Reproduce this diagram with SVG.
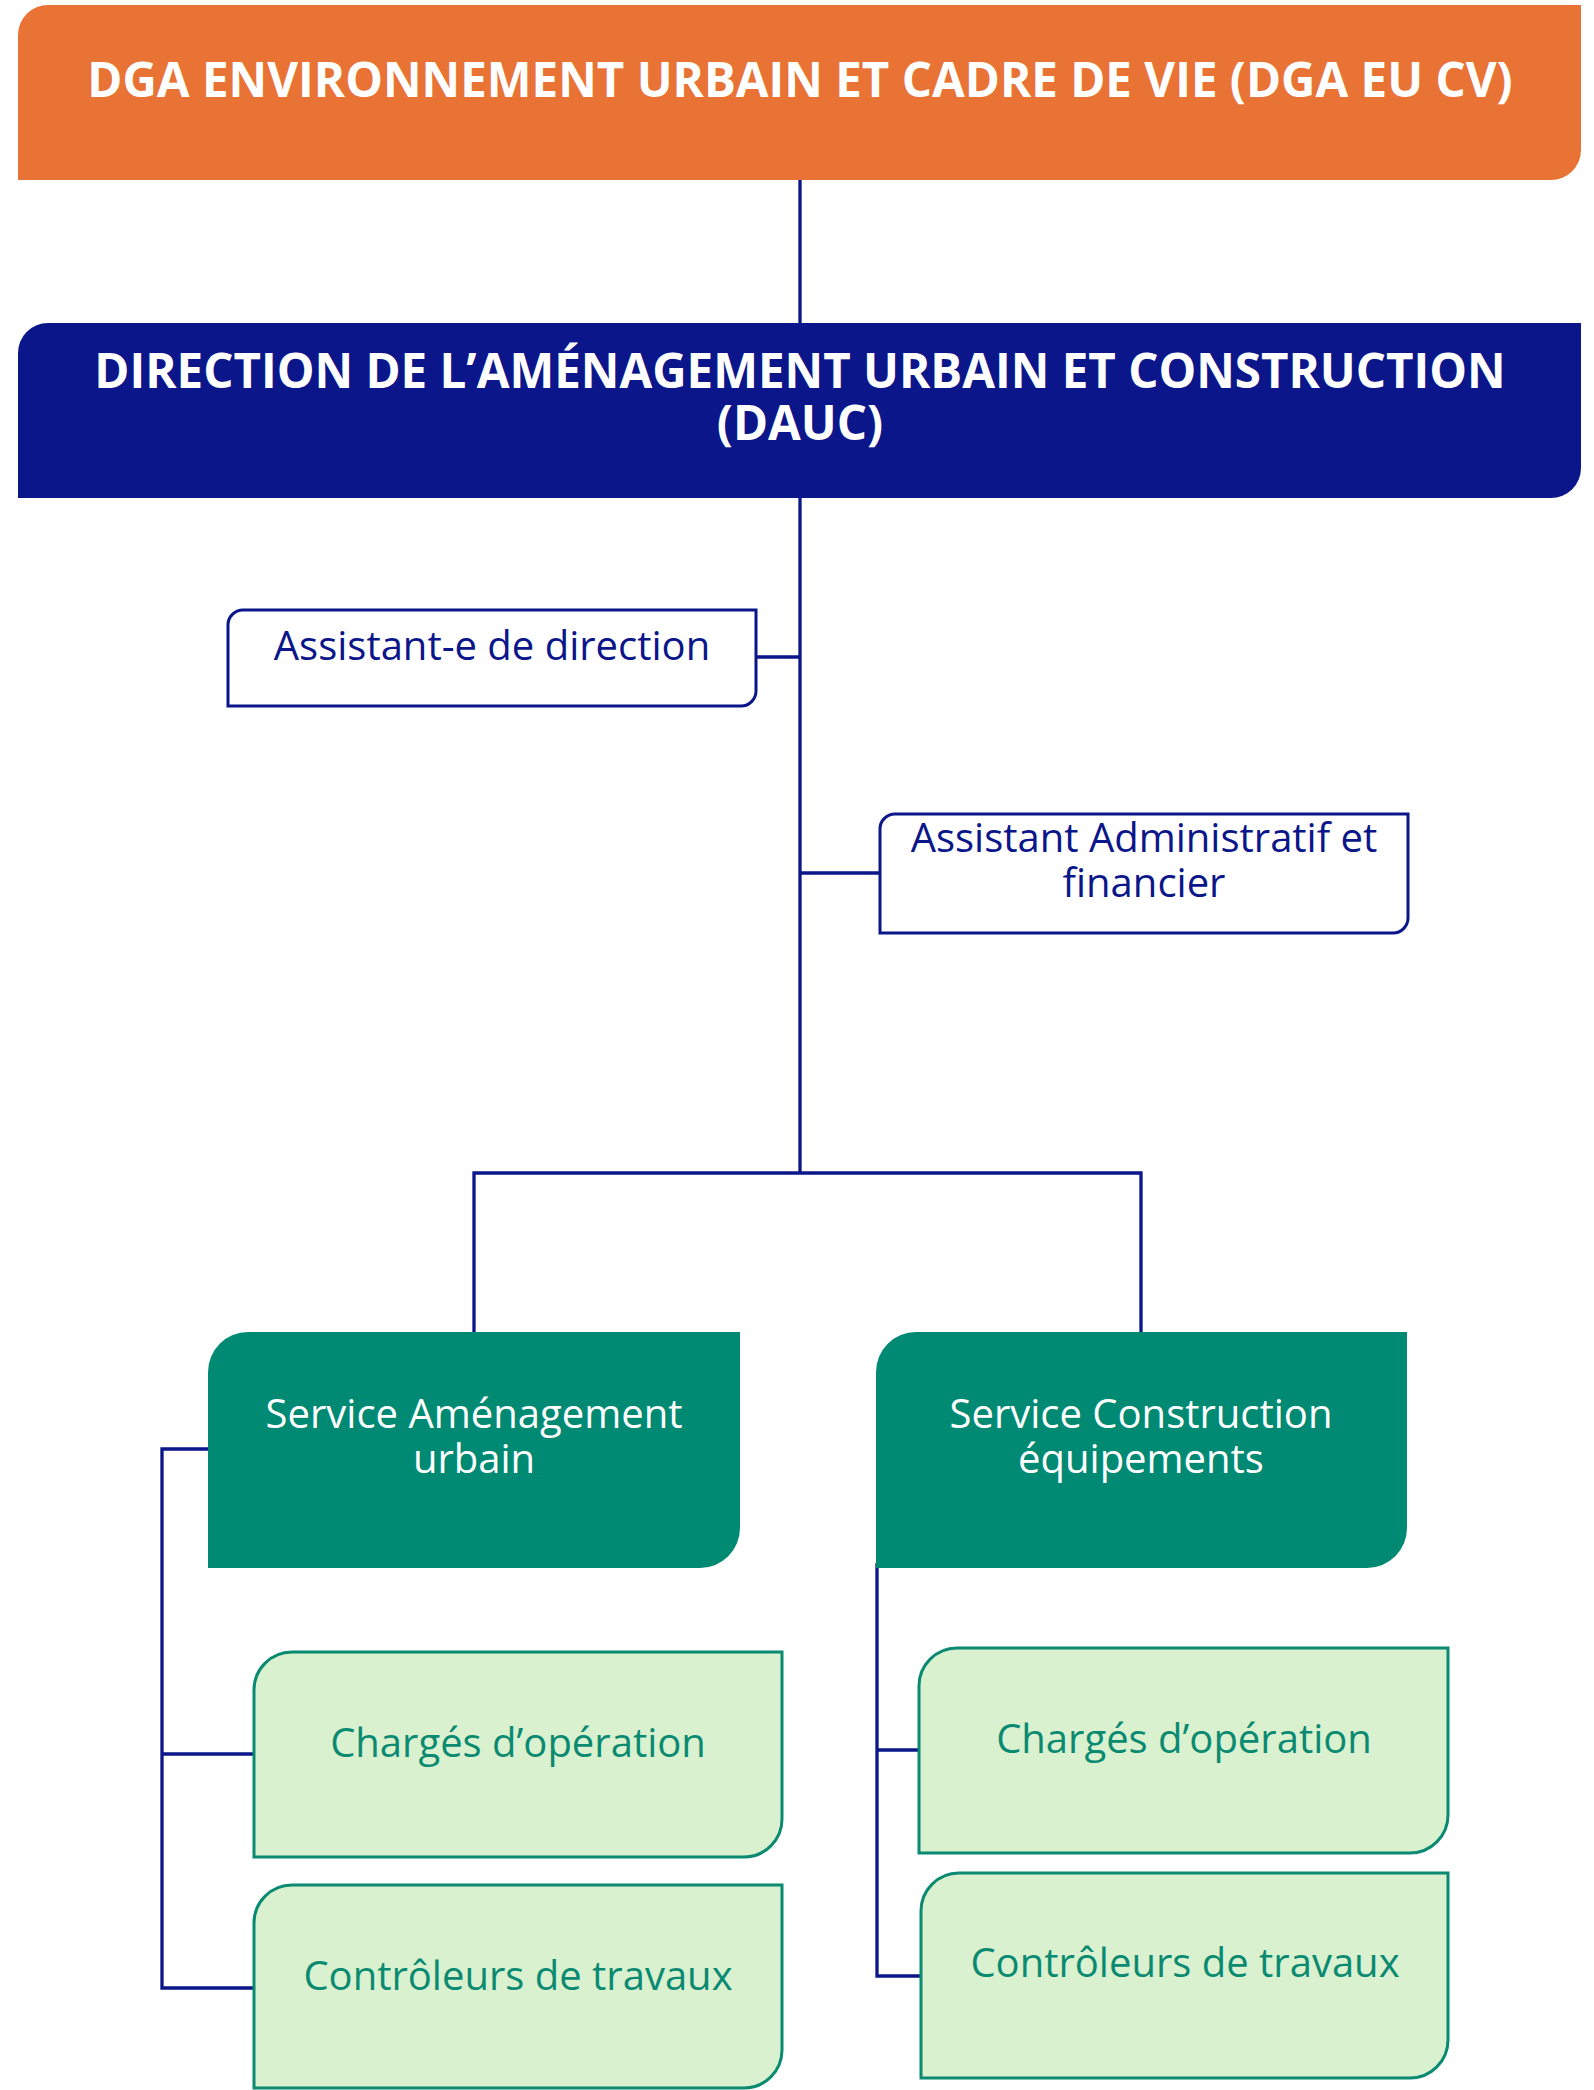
<svg xmlns="http://www.w3.org/2000/svg" width="1594" height="2090" viewBox="0 0 1594 2090">
<style>
.bg{fill:#ffffff}
.conn{fill:none;stroke:#0A1689;stroke-width:3.3}
.title{font-family:"Open Sans","Liberation Sans",sans-serif;font-weight:bold;font-size:47.5px;fill:#ffffff;text-anchor:middle}
.t{font-family:"Open Sans","Liberation Sans",sans-serif;font-size:40px;text-anchor:middle}
.w{fill:#ffffff}
.n{fill:#0A1689}
.g{fill:#0B8A72}
.asst{fill:#ffffff;stroke:#0A1689;stroke-width:3}
.svc{fill:#008A73}
.sub{fill:#DAF1D0;stroke:#0B8A72;stroke-width:3}
</style>
<rect class="bg" x="0" y="0" width="1594" height="2090"/>
<g id="connectors">
<path class="conn" d="M800,178 V1173"/>
<path class="conn" d="M756,657 H800"/>
<path class="conn" d="M800,873 H880"/>
<path class="conn" d="M474,1332 V1173 H1141 V1332"/>
<path class="conn" d="M209,1449 H162 V1988 H254"/>
<path class="conn" d="M162,1754 H254"/>
<path class="conn" d="M877,1563 V1976 H921"/>
<path class="conn" d="M877,1750 H919"/>
</g>
<g id="dga">
<path fill="#E97334" d="M48,5 H1581 V150 A30,30 0 0 1 1551,180 H18 V35 A30,30 0 0 1 48,5 Z"/>
<text class="title" x="800" y="97">DGA ENVIRONNEMENT URBAIN ET CADRE DE VIE (DGA EU CV)</text>
</g>
<g id="dauc">
<path fill="#0A1689" d="M48,323 H1581 V468 A30,30 0 0 1 1551,498 H18 V353 A30,30 0 0 1 48,323 Z"/>
<text class="title" x="800" y="388">DIRECTION DE L’AMÉNAGEMENT URBAIN ET CONSTRUCTION<tspan x="800" y="440">(DAUC)</tspan></text>
</g>
<g id="assistant-direction">
<path class="asst" d="M243,610 H756 V691 A15,15 0 0 1 741,706 H228 V625 A15,15 0 0 1 243,610 Z"/>
<text class="t n" x="492" y="660">Assistant-e de direction</text>
</g>
<g id="assistant-admin">
<path class="asst" d="M895,814 H1408 V918 A15,15 0 0 1 1393,933 H880 V829 A15,15 0 0 1 895,814 Z"/>
<text class="t n" x="1144" y="852">Assistant Administratif et<tspan x="1144" y="897">financier</tspan></text>
</g>
<g id="service-amenagement">
<path class="svc" d="M248,1332 H740 V1528 A40,40 0 0 1 700,1568 H208 V1372 A40,40 0 0 1 248,1332 Z"/>
<text class="t w" x="474" y="1428">Service Aménagement<tspan x="474" y="1473">urbain</tspan></text>
</g>
<g id="service-construction">
<path class="svc" d="M916,1332 H1407 V1528 A40,40 0 0 1 1367,1568 H876 V1372 A40,40 0 0 1 916,1332 Z"/>
<text class="t w" x="1141" y="1428">Service Construction<tspan x="1141" y="1473">équipements</tspan></text>
</g>
<g id="charges-left">
<path class="sub" d="M292,1652 H782 V1819 A38,38 0 0 1 744,1857 H254 V1690 A38,38 0 0 1 292,1652 Z"/>
<text class="t g" x="518" y="1757">Chargés d’opération</text>
</g>
<g id="controleurs-left">
<path class="sub" d="M292,1885 H782 V2050 A38,38 0 0 1 744,2088 H254 V1923 A38,38 0 0 1 292,1885 Z"/>
<text class="t g" x="518" y="1990">Contrôleurs de travaux</text>
</g>
<g id="charges-right">
<path class="sub" d="M957,1648 H1448 V1815 A38,38 0 0 1 1410,1853 H919 V1686 A38,38 0 0 1 957,1648 Z"/>
<text class="t g" x="1184" y="1753">Chargés d’opération</text>
</g>
<g id="controleurs-right">
<path class="sub" d="M959,1873 H1448 V2040 A38,38 0 0 1 1410,2078 H921 V1911 A38,38 0 0 1 959,1873 Z"/>
<text class="t g" x="1185" y="1977">Contrôleurs de travaux</text>
</g>
</svg>
